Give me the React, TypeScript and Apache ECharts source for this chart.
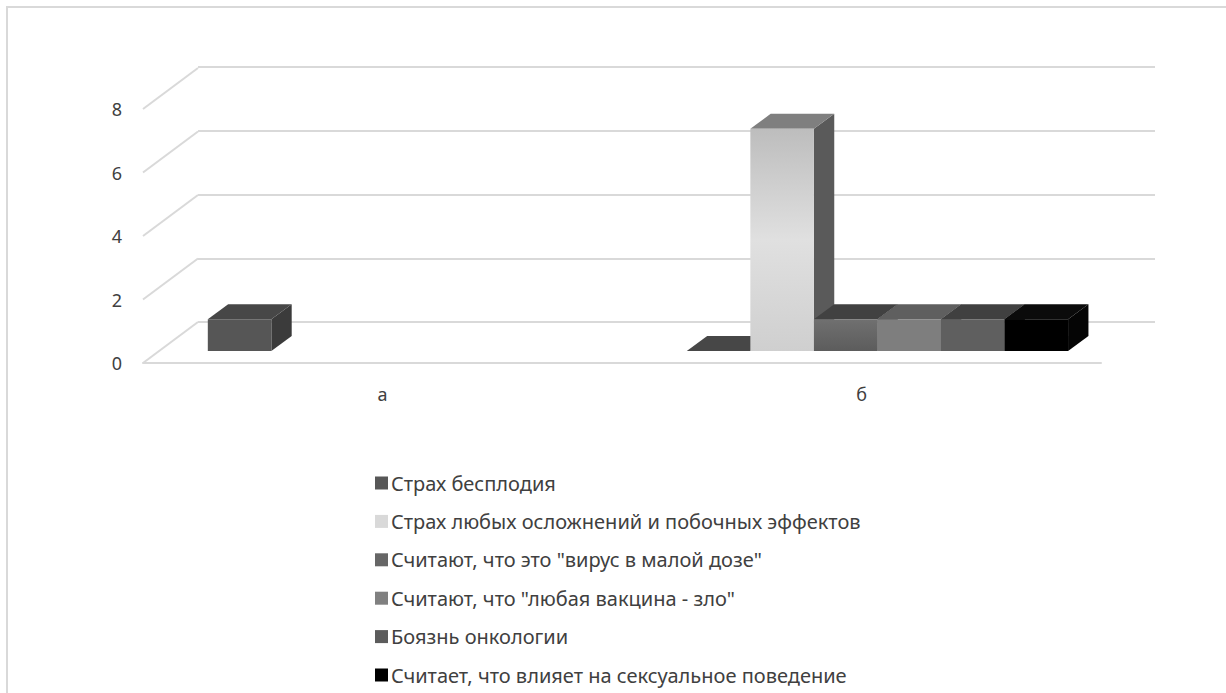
import React, { useEffect, useRef } from "react";
import * as echarts from "echarts";

// Categories and series values
const categories = ["а", "б"];
const seriesNames = [
  "Страх бесплодия",
  "Страх любых осложнений и побочных эффектов",
  'Считают, что это "вирус в малой дозе"',
  'Считают, что "любая вакцина - зло"',
  "Боязнь онкологии",
  "Считает, что влияет на сексуальное поведение",
];
const infertility: (number | null)[] = [1, 0];
const complications: (number | null)[] = [null, 7];
const virusSmallDose: (number | null)[] = [null, 1];
const vaccineEvil: (number | null)[] = [null, 1];
const oncology: (number | null)[] = [null, 1];
const sexualBehaviour: (number | null)[] = [null, 1];
const valueTicks = [0, 2, 4, 6, 8];

const seriesValues = [infertility, complications, virusSmallDose, vaccineEvil, oncology, sexualBehaviour];

// Face shading of each 3D column: front, top, side, legend swatch
const faceStyles = [
  { front: "#565656", top: "#474747", side: "#3b3b3b", legend: "#575757" },
  {
    front: {
      type: "linear", x: 0, y: 0, x2: 0, y2: 1,
      colorStops: [
        { offset: 0, color: "#bdbdbd" },
        { offset: 0.5, color: "#e0e0e0" },
        { offset: 1, color: "#cfcfcf" },
      ],
    },
    top: "#7f7f7f", side: "#5a5a5a", legend: "#d9d9d9",
  },
  {
    front: {
      type: "linear", x: 0, y: 0, x2: 0, y2: 1,
      colorStops: [
        { offset: 0, color: "#707070" },
        { offset: 1, color: "#5c5c5c" },
      ],
    },
    top: "#414141", side: "#3a3a3a", legend: "#666666",
  },
  { front: "#7e7e7e", top: "#5f5f5f", side: "#555555", legend: "#808080" },
  { front: "#5f5f5f", top: "#404040", side: "#3a3a3a", legend: "#5c5c5c" },
  { front: "#000000", top: "#0b0b0b", side: "#050505", legend: "#000000" },
];

// Oblique projection of the floor depth
const DEPTH_DX = 55;
const DEPTH_DY = -41;
const FRONT_DEPTH = 0.29;
const BAR_DEPTH = 0.37;
const GROUP_RATIO = 0.796;

const GRID_COLOR = "#d9d9d9";
const TEXT_COLOR = "#404040";
const FONT = "'Noto Sans', 'Liberation Sans', sans-serif";

export default function App() {
  const ref = useRef<HTMLDivElement>(null);

  useEffect(() => {
    if (!ref.current) return;
    const chart = echarts.init(ref.current, null, { renderer: "svg" });
    const n = seriesNames.length;

    const barSeries = seriesNames.map((name, si) => {
      const st = faceStyles[si];
      const data = seriesValues[si]
        .map((v, i) => (v == null ? null : [i, v]))
        .filter((d) => d !== null);
      return {
        name,
        type: "custom",
        xAxisIndex: 0,
        yAxisIndex: 0,
        z: 10 + si,
        silent: true,
        itemStyle: { color: st.legend },
        data,
        renderItem: (params: any, api: any) => {
          const cat = api.value(0);
          const v = api.value(1);
          if (v == null || isNaN(v)) return null;
          const base = api.coord([cat, 0]);
          const tip = api.coord([cat, v]);
          const band = api.size([1, 0])[0];
          const groupW = band * GROUP_RATIO;
          const barW = groupW / n;
          const fx = base[0] - groupW / 2 + si * barW + DEPTH_DX * FRONT_DEPTH;
          const fy0 = base[1] + DEPTH_DY * FRONT_DEPTH;
          const fy1 = tip[1] + DEPTH_DY * FRONT_DEPTH;
          const dx = DEPTH_DX * BAR_DEPTH;
          const dy = DEPTH_DY * BAR_DEPTH;
          return {
            type: "group",
            children: [
              {
                type: "polygon",
                shape: {
                  points: [
                    [fx + barW, fy0],
                    [fx + barW + dx, fy0 + dy],
                    [fx + barW + dx, fy1 + dy],
                    [fx + barW, fy1],
                  ],
                },
                style: { fill: st.side },
              },
              {
                type: "polygon",
                shape: {
                  points: [
                    [fx, fy1],
                    [fx + barW, fy1],
                    [fx + barW + dx, fy1 + dy],
                    [fx + dx, fy1 + dy],
                  ],
                },
                style: { fill: st.top },
              },
              {
                type: "rect",
                shape: { x: fx, y: fy1, width: barW, height: fy0 - fy1 },
                style: { fill: st.front },
              },
            ],
          };
        },
      };
    });

    // Side-wall diagonals joining the front value ticks to the back wall
    const wallSeries = {
      name: "wall",
      type: "custom",
      xAxisIndex: 0,
      yAxisIndex: 0,
      z: 1,
      silent: true,
      data: valueTicks.map((v) => [0, v]),
      renderItem: (params: any, api: any) => {
        const cs = params.coordSys;
        const y = api.coord([0, api.value(1)])[1];
        return {
          type: "line",
          shape: { x1: cs.x, y1: y, x2: cs.x + DEPTH_DX, y2: y + DEPTH_DY },
          style: { stroke: GRID_COLOR, lineWidth: 2 },
        };
      },
    };

    chart.setOption({
      animation: false,
      backgroundColor: "#ffffff",
      textStyle: { fontFamily: FONT },
      graphic: [
        {
          type: "rect",
          shape: { x: 7, y: 7, width: 1300, height: 800 },
          style: { fill: "none", stroke: GRID_COLOR, lineWidth: 2 },
          silent: true,
        },
      ],
      grid: [
        { left: 143, right: 125, top: 109, bottom: 330 },
        { left: 198, right: 71, top: 67, bottom: 371 },
      ],
      xAxis: [
        {
          type: "category",
          gridIndex: 0,
          data: categories,
          boundaryGap: true,
          axisLine: { show: true, lineStyle: { color: GRID_COLOR, width: 2 } },
          axisTick: { show: false },
          axisLabel: { margin: 22, fontSize: 18, color: TEXT_COLOR, fontFamily: FONT },
          splitLine: { show: false },
        },
        {
          type: "category",
          gridIndex: 1,
          data: categories,
          show: false,
        },
      ],
      yAxis: [
        {
          type: "value",
          gridIndex: 0,
          min: 0,
          max: 8,
          interval: 2,
          axisLine: { show: false },
          axisTick: { show: false },
          axisLabel: { margin: 21, fontSize: 18, color: TEXT_COLOR, fontFamily: FONT },
          splitLine: { show: false },
        },
        {
          type: "value",
          gridIndex: 1,
          min: 0,
          max: 8,
          interval: 2,
          axisLine: { show: false },
          axisTick: { show: false },
          axisLabel: { show: false },
          splitLine: { show: true, lineStyle: { color: GRID_COLOR, width: 2 } },
        },
      ],
      legend: {
        orient: "vertical",
        left: 375,
        top: 473,
        height: 215,
        padding: 0,
        itemWidth: 13,
        itemHeight: 13,
        itemGap: 18.4,
        icon: "rect",
        selectedMode: false,
        textStyle: { fontSize: 20, lineHeight: 20, color: TEXT_COLOR, fontFamily: FONT, padding: [0, 0, 0, -2] },
        data: seriesNames.map((name, i) => ({ name, itemStyle: { color: faceStyles[i].legend } })),
      },
      series: [wallSeries, ...barSeries],
    });

    return () => chart.dispose();
  }, []);

  return (
    <div
      ref={ref}
      style={{ position: "fixed", left: 0, top: 0, width: 1226, height: 693 }}
    />
  );
}
